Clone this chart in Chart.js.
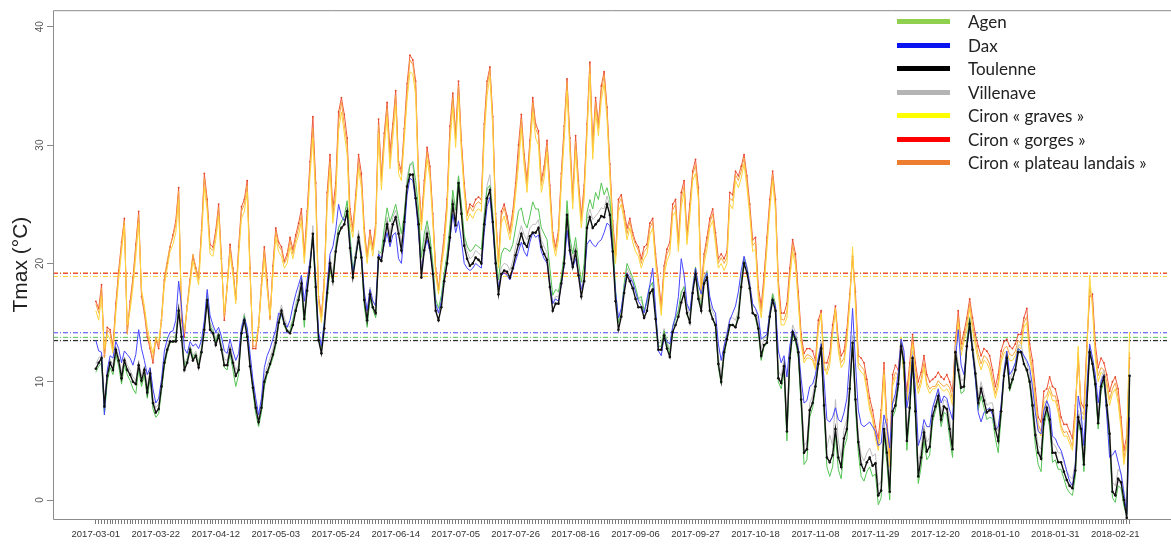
<!DOCTYPE html>
<html>
<head>
<meta charset="utf-8">
<script src="https://cdn.jsdelivr.net/npm/chart.js@4.4.1/dist/chart.umd.min.js"></script>
<style>
  html, body { margin: 0; padding: 0; background: #fff; overflow: hidden; }
  #wrap { position: relative; width: 1171px; height: 544px; }
  #legend { position: absolute; left: 897px; top: 10px; font-family: Lato, "Open Sans", sans-serif; font-size: 17px; color: #222; }
  .row { height: 23.5px; display: flex; align-items: center; white-space: nowrap; }
  .sw { display: inline-block; width: 53px; height: 5px; margin-right: 18px; }
</style>
</head>
<body>
<div id="wrap">
  <canvas id="chart" width="1171" height="544"></canvas>
  <div id="legend"></div>
</div>
<script>
// Tmax journalière, du 2017-03-01 au 2018-02-26 (un point par jour)
const tickLabels = ['2017-03-01','2017-03-22','2017-04-12','2017-05-03','2017-05-24','2017-06-14',
  '2017-07-05','2017-07-26','2017-08-16','2017-09-06','2017-09-27','2017-10-18','2017-11-08',
  '2017-11-29','2017-12-20','2018-01-10','2018-01-31','2018-02-21'];
const yTicks = [0, 10, 20, 30, 40];

const seriesNames = ['Agen', 'Dax', 'Toulenne', 'Villenave', 'Ciron « graves »', 'Ciron « gorges »', 'Ciron « plateau landais »'];

const toulenne = [
  11.1, 11.6, 12.0, 7.9, 10.5, 11.6, 11.0, 12.7, 11.8, 10.3,
  11.8, 11.0, 10.6, 10.0, 9.8, 11.4, 10.1, 11.0, 9.1, 10.7,
  8.2, 7.4, 7.7, 9.6, 11.6, 12.7, 13.4, 13.4, 13.4, 16.0,
  13.8, 11.0, 11.6, 12.7, 11.8, 12.2, 11.2, 12.5, 14.4, 16.9,
  14.4, 14.1, 13.1, 13.9, 12.7, 11.4, 11.4, 12.7, 11.6, 10.5,
  11.0, 14.1, 15.2, 13.8, 11.3, 9.5, 7.8, 6.6, 7.8, 10.0,
  10.8, 11.5, 12.3, 13.3, 15.0, 16.0, 14.9, 14.3, 14.1, 14.8,
  16.0, 16.9, 18.3, 15.3, 17.7, 19.7, 22.5, 18.0, 13.5, 12.4,
  14.5, 17.5, 20.0, 18.5, 21.0, 22.5, 23.0, 23.3, 24.4, 21.3,
  18.8, 20.5, 22.2, 20.5, 16.9, 15.2, 17.4, 16.3, 15.8, 20.5,
  20.2, 21.9, 23.3, 21.9, 23.3, 23.9, 22.5, 21.1, 23.5, 26.5,
  27.5, 27.5, 25.5, 23.3, 18.8, 21.1, 22.5, 21.3, 19.1, 16.0,
  15.2, 16.3, 18.5, 20.0, 22.2, 25.0, 23.2, 26.8, 24.2, 21.5,
  20.4, 19.8, 20.0, 20.5, 20.3, 20.0, 23.3, 25.5, 26.2, 23.5,
  20.0, 17.4, 19.1, 19.4, 19.3, 18.8, 19.6, 20.7, 21.6, 22.5,
  21.7, 21.4, 22.3, 22.6, 22.6, 23.0, 21.4, 20.8, 20.3, 18.0,
  16.0, 16.6, 16.6, 18.3, 20.0, 24.1, 21.1, 19.7, 21.0, 19.0,
  17.2, 18.5, 23.0, 23.9, 23.0, 23.3, 23.6, 24.0, 23.9, 25.0,
  24.1, 21.0, 16.8, 14.4, 15.5, 17.5, 19.0, 18.5, 17.9, 17.0,
  16.3, 16.3, 15.4, 16.0, 17.5, 17.8, 15.3, 12.7, 12.7, 13.9,
  12.8, 12.1, 14.2, 14.8, 15.5, 16.7, 17.5, 15.8, 15.0, 17.5,
  19.1, 17.0, 16.0, 18.3, 18.8, 16.0, 15.3, 14.8, 11.5, 10.0,
  12.5, 13.6, 14.8, 14.8, 14.6, 15.4, 18.0, 20.0, 19.2, 17.9,
  15.8, 15.6, 14.5, 12.2, 13.1, 13.3, 15.5, 16.9, 16.0, 10.3,
  9.9, 11.3, 5.8, 12.0, 14.2, 13.6, 12.5, 8.5, 4.0, 4.3,
  7.6, 8.2, 9.6, 11.5, 12.8, 8.0, 3.6, 3.2, 3.8, 6.0,
  3.6, 2.8, 5.2, 6.0, 9.4, 13.3, 8.5, 4.9, 3.0, 2.5,
  3.2, 3.6, 2.9, 3.1, 0.4, 0.8, 6.0, 4.0, 0.7, 7.5,
  8.0, 9.8, 13.0, 11.6, 5.0, 7.8, 12.0, 7.5, 2.0, 3.6,
  5.7, 4.1, 4.5, 7.1, 7.9, 8.8, 6.8, 7.9, 7.7, 6.0,
  4.3, 12.5, 11.0, 9.5, 9.6, 13.0, 14.9, 12.7, 10.7, 8.2,
  9.4, 8.4, 7.4, 7.6, 7.6, 6.0, 5.0, 7.5, 10.5, 12.0,
  9.5, 10.2, 11.0, 12.5, 12.5, 11.5, 11.0, 10.0, 8.0, 5.5,
  4.0, 3.5, 6.8, 7.8, 6.8, 4.0, 4.0, 3.2, 3.2, 2.4,
  1.7, 1.2, 1.0, 2.5, 7.0, 6.0, 3.0, 8.0, 12.5, 11.5,
  9.8, 6.5, 9.6, 10.4, 8.0, 5.6, 0.7, 0.4, 1.8, 1.5,
  0.0, -1.5, 10.5
];

const villenave = [
  11.5, 12.0, 12.3, 8.5, 10.8, 11.9, 11.4, 13.0, 12.1, 10.8,
  12.1, 11.4, 11.0, 10.4, 10.1, 11.8, 10.5, 11.3, 9.5, 11.0,
  8.6, 7.8, 8.1, 10.0, 11.9, 13.0, 13.8, 13.8, 13.9, 16.6,
  14.2, 11.5, 12.0, 13.1, 12.2, 12.6, 11.7, 13.0, 15.0, 17.5,
  15.0, 14.5, 13.6, 14.3, 13.1, 11.9, 11.8, 13.1, 12.0, 11.0,
  11.4, 14.6, 15.8, 14.3, 11.8, 9.9, 8.2, 7.0, 8.3, 10.5,
  11.3, 12.0, 12.8, 13.8, 15.5, 16.5, 15.4, 14.8, 14.6, 15.3,
  16.6, 17.5, 18.9, 15.9, 18.3, 20.3, 23.2, 18.6, 14.0, 12.9,
  15.0, 18.1, 20.6, 19.1, 21.6, 23.1, 23.6, 23.9, 25.0, 21.9,
  19.3, 21.1, 22.8, 21.1, 17.5, 15.8, 18.0, 16.9, 16.4, 21.1,
  20.8, 22.5, 23.9, 22.5, 23.9, 24.5, 23.1, 21.7, 24.1, 27.3,
  28.4, 28.3, 26.2, 23.9, 19.4, 21.8, 23.2, 22.0, 19.7, 16.6,
  15.8, 16.9, 19.1, 20.6, 22.9, 25.7, 23.8, 27.4, 24.9, 22.1,
  21.0, 20.4, 20.6, 21.1, 20.9, 20.6, 24.2, 26.6, 27.5, 24.4,
  20.7, 18.0, 19.7, 20.0, 19.9, 19.4, 20.2, 21.4, 22.3, 23.2,
  22.4, 22.0, 23.0, 23.3, 23.3, 23.7, 22.0, 21.4, 20.9, 18.6,
  16.6, 17.2, 17.2, 18.9, 20.7, 24.8, 21.7, 20.3, 21.6, 19.6,
  17.8, 19.1, 23.7, 24.6, 23.7, 24.0, 24.3, 24.7, 24.6, 25.7,
  24.8, 21.6, 17.4, 15.0, 16.1, 18.1, 19.6, 19.1, 18.5, 17.6,
  16.9, 16.9, 16.0, 16.6, 18.1, 18.4, 15.9, 13.3, 13.3, 14.5,
  13.4, 12.7, 14.8, 15.4, 16.1, 17.3, 18.1, 16.4, 15.6, 18.1,
  19.7, 17.6, 16.6, 18.9, 19.4, 16.6, 15.9, 15.4, 12.1, 10.6,
  13.1, 14.2, 15.4, 15.4, 15.2, 16.0, 18.6, 20.6, 19.8, 18.5,
  16.4, 16.2, 15.1, 12.8, 13.7, 13.9, 16.1, 17.5, 16.6, 10.9,
  10.5, 11.9, 6.6, 12.6, 14.8, 14.2, 13.1, 9.1, 4.6, 4.9,
  8.2, 8.8, 10.2, 12.1, 13.4, 8.6, 4.4, 5.5, 4.6, 8.5,
  5.0, 3.6, 6.0, 6.8, 10.0, 13.9, 9.1, 5.5, 3.8, 3.3,
  4.0, 4.4, 3.7, 3.9, 1.2, 1.6, 6.6, 4.8, 1.5, 8.1,
  8.6, 10.4, 13.6, 12.2, 5.8, 8.4, 12.6, 8.1, 2.8, 4.4,
  6.3, 4.9, 5.3, 7.7, 8.5, 9.4, 7.4, 8.5, 8.3, 6.8,
  5.1, 13.1, 11.6, 10.1, 10.2, 13.6, 15.5, 13.3, 11.3, 8.8,
  10.0, 9.0, 8.0, 8.2, 8.2, 6.6, 5.8, 8.1, 11.1, 12.6,
  10.1, 10.8, 11.6, 13.1, 13.1, 12.1, 11.6, 10.6, 8.6, 6.1,
  4.6, 4.3, 7.4, 8.4, 7.4, 4.8, 4.6, 4.0, 4.0, 3.2,
  2.5, 2.0, 1.8, 3.3, 7.6, 6.6, 3.8, 8.6, 13.1, 12.1,
  10.4, 7.1, 10.2, 11.0, 8.6, 6.2, 1.5, 1.2, 2.6, 2.3,
  0.8, -0.7, 11.1
];

const agen = [
  10.8, 11.3, 11.6, 7.2, 10.0, 11.2, 10.6, 12.3, 11.3, 9.8,
  11.4, 10.6, 10.1, 9.4, 9.0, 11.0, 9.6, 10.6, 8.6, 10.3,
  7.7, 7.0, 7.3, 9.2, 11.3, 12.5, 13.3, 13.4, 13.6, 16.2,
  14.0, 11.3, 11.8, 12.9, 12.0, 12.4, 11.4, 12.7, 14.8, 17.2,
  14.7, 14.3, 13.4, 14.1, 12.9, 11.2, 11.0, 12.4, 11.0, 9.6,
  10.6, 14.2, 15.6, 14.2, 11.6, 9.2, 7.3, 6.2, 7.4, 9.6,
  10.6, 11.3, 12.0, 13.0, 14.8, 15.8, 14.7, 14.2, 14.3, 15.2,
  16.2, 17.2, 18.0, 14.6, 17.8, 20.0, 22.3, 17.2, 13.6, 12.6,
  15.2, 17.0, 19.5, 18.4, 21.3, 23.0, 23.5, 24.0, 25.3, 22.5,
  19.4, 20.8, 22.0, 20.2, 16.4, 14.6, 17.0, 16.1, 15.4, 20.8,
  21.0, 23.0, 24.7, 23.5, 24.2, 25.0, 23.8, 22.5, 24.2, 26.8,
  28.3, 28.6, 27.0, 24.6, 20.5, 22.5, 23.6, 22.3, 20.0, 17.0,
  16.2, 17.3, 19.2, 20.8, 23.3, 26.2, 24.5, 27.4, 25.0, 22.4,
  21.5, 21.0, 21.2, 21.6, 21.4, 21.2, 24.0, 26.3, 26.6, 24.0,
  20.6, 18.6, 20.8, 21.3, 21.2, 21.0, 21.6, 23.0, 24.4, 24.7,
  23.5, 23.0, 24.0, 25.2, 24.6, 24.6, 23.0, 22.5, 22.0, 19.6,
  17.3, 17.8, 17.6, 18.8, 20.8, 25.3, 22.2, 20.8, 22.2, 20.2,
  18.4, 20.0, 24.3, 25.4, 24.6, 26.0, 25.4, 26.8, 25.8, 26.4,
  25.4, 22.3, 17.8, 15.0, 15.7, 18.3, 20.0, 19.4, 18.8, 18.0,
  17.0, 17.2, 16.0, 16.8, 18.0, 18.4, 15.8, 13.0, 13.0, 14.3,
  13.2, 12.4, 14.6, 15.3, 16.0, 17.6, 18.0, 15.6, 15.2, 17.8,
  19.7, 17.4, 16.2, 18.6, 19.3, 16.2, 15.3, 14.6, 11.2, 9.8,
  12.2, 13.5, 14.6, 14.9, 14.6, 15.8, 18.4, 20.4, 19.6, 18.0,
  15.9, 15.4, 14.2, 11.8, 13.0, 13.2, 15.8, 17.4, 16.5, 10.0,
  9.4, 10.8, 5.0, 11.5, 14.0, 13.4, 12.0, 7.8, 3.0, 3.4,
  7.0, 7.8, 9.4, 11.6, 13.0, 7.4, 2.8, 2.0, 2.8, 5.4,
  2.6, 1.8, 4.4, 5.2, 9.0, 13.4, 7.8, 4.0, 2.0, 1.6,
  2.4, 2.8, 2.0, 2.2, -0.4, 0.2, 5.4, 3.2, 0.0, 7.0,
  7.6, 9.4, 13.2, 11.0, 4.2, 7.2, 11.8, 6.8, 1.4, 2.8,
  5.0, 3.4, 3.8, 6.6, 7.5, 8.5, 6.2, 7.4, 7.2, 5.2,
  3.6, 12.2, 10.7, 9.0, 9.2, 13.2, 15.4, 12.6, 10.2, 7.6,
  8.8, 7.8, 6.8, 7.0, 6.9, 5.2, 4.0, 7.0, 10.6, 12.4,
  9.2, 10.0, 11.2, 12.8, 12.6, 11.6, 11.0, 9.8, 7.4, 4.6,
  3.0, 2.4, 6.2, 7.4, 6.2, 3.2, 3.4, 2.6, 2.6, 1.8,
  1.0, 0.6, 0.4, 2.0, 6.6, 5.6, 2.4, 7.6, 12.8, 11.4,
  9.4, 6.0, 9.2, 10.0, 7.4, 4.8, 0.2, -0.2, 1.2, 1.0,
  -0.5, -1.3, 10.0
];

const dax = [
  13.5, 12.6, 12.5, 7.2, 11.0, 12.2, 12.0, 13.4, 12.8, 11.6,
  12.6, 12.3, 12.0, 11.4, 12.3, 14.4, 12.8, 11.8, 10.6, 11.2,
  9.4, 8.2, 8.6, 10.2, 12.6, 13.6, 14.2, 14.3, 15.2, 18.5,
  16.4, 12.8, 12.4, 13.4, 13.0, 13.2, 12.8, 13.5, 15.2, 17.8,
  15.6, 14.8, 14.2, 14.6, 13.8, 12.6, 12.4, 13.6, 12.6, 11.8,
  12.4, 14.6, 15.4, 14.6, 12.4, 10.2, 8.6, 7.2, 8.6, 11.2,
  12.2, 12.8, 13.6, 14.4, 15.8, 15.6, 15.0, 14.6, 15.2, 16.4,
  17.4, 18.2, 19.0, 16.8, 18.6, 20.2, 22.0, 18.6, 14.2, 13.0,
  15.0, 18.2, 20.8, 21.4, 22.8, 25.0, 24.0, 23.6, 24.2, 21.6,
  19.2, 20.6, 22.0, 20.8, 17.6, 16.0, 17.8, 16.8, 16.4, 20.8,
  20.4, 21.6, 22.6, 21.4, 22.4, 22.6, 20.4, 20.0, 22.6, 25.8,
  27.2, 27.0, 25.2, 22.6, 19.4, 21.0, 22.0, 21.0, 19.4, 16.6,
  15.8, 16.8, 18.6, 20.0, 22.0, 24.2, 22.6, 23.6, 22.0, 20.0,
  19.6, 19.4, 19.6, 20.0, 19.8, 19.6, 22.6, 24.8, 25.6, 23.0,
  19.8, 18.0, 19.0, 19.2, 19.0, 18.6, 19.4, 20.2, 21.0, 21.8,
  21.0, 20.6, 21.8, 22.6, 22.2, 22.4, 21.0, 20.4, 20.0, 18.2,
  16.6, 17.0, 16.8, 18.2, 19.8, 22.8, 20.8, 19.6, 20.4, 19.2,
  17.8, 18.6, 21.6, 22.0, 21.6, 21.4, 21.8, 22.0, 22.6, 23.4,
  23.2, 20.8, 17.6, 15.4, 16.2, 17.8, 19.2, 18.8, 18.4, 17.6,
  16.8, 16.4, 15.8, 17.0, 18.2, 19.6, 16.2, 12.6, 12.2, 13.8,
  13.4, 13.2, 14.6, 15.6, 17.2, 20.4, 19.0, 16.6, 16.0, 17.8,
  19.6, 18.2, 17.4, 18.6, 19.2, 17.2, 16.2, 15.8, 13.2, 11.8,
  13.0, 14.0, 15.2, 15.8, 16.4, 17.6, 19.4, 20.6, 19.6, 18.2,
  16.6, 16.2, 15.6, 13.6, 13.8, 14.0, 15.8, 17.0, 16.4, 12.6,
  11.6, 12.2, 10.4, 13.0, 14.4, 13.8, 12.8, 10.2, 8.2, 8.4,
  9.6, 9.8, 10.6, 12.0, 13.2, 10.2, 6.8, 6.6, 7.0, 7.8,
  6.8, 6.6, 7.4, 8.6, 12.0, 16.2, 11.6, 7.6, 6.4, 6.2,
  6.4, 6.6, 6.2, 5.8, 4.6, 4.8, 7.2, 6.2, 4.4, 8.2,
  9.0, 10.8, 13.6, 12.6, 7.8, 9.2, 12.2, 9.4, 4.6, 5.4,
  6.8, 6.2, 6.2, 7.8, 8.6, 9.4, 8.2, 8.8, 8.6, 7.6,
  6.8, 11.8, 14.4, 11.4, 10.6, 12.8, 14.6, 12.4, 10.2, 7.4,
  6.6, 7.4, 7.6, 7.8, 7.2, 6.0, 6.2, 8.0, 10.8, 12.6,
  10.6, 11.0, 11.6, 12.8, 12.6, 12.2, 11.8, 11.2, 9.6, 7.4,
  5.8, 5.6, 7.6, 8.4, 7.8, 5.4, 5.2, 4.6, 4.2, 3.4,
  2.4, 1.6, 1.2, 3.0, 8.8, 7.4, 4.6, 9.4, 13.2, 12.0,
  10.6, 8.2, 10.0, 10.6, 7.2, 3.6, 3.8, 4.2, 3.2, 2.2,
  0.6, -1.2, 7.0
];

const cironPlateau = [
  16.6, 15.8, 17.9, 12.0, 14.4, 14.1, 12.7, 16.3, 19.1, 21.5,
  23.6, 14.0, 16.5, 18.6, 21.3, 24.1, 17.4, 16.0, 14.1, 13.0,
  11.9, 13.8, 13.0, 15.5, 18.8, 20.2, 21.5, 22.2, 23.3, 26.1,
  15.5, 14.1, 16.5, 18.8, 20.8, 19.7, 18.6, 22.7, 27.2, 25.0,
  21.3, 21.1, 22.5, 24.7, 20.2, 15.5, 18.3, 21.3, 19.4, 16.9,
  21.1, 24.4, 25.0, 26.6, 19.4, 13.0, 13.0, 14.9, 18.3, 21.1,
  18.0, 15.2, 19.5, 22.7, 21.5, 21.1, 20.0, 20.5, 21.9, 20.8,
  22.0, 23.0, 24.1, 20.5, 23.9, 28.0, 31.4, 26.0, 17.0, 15.5,
  18.5, 25.5, 28.6, 24.0, 26.0, 32.0, 33.6, 31.7, 30.0, 24.0,
  22.7, 25.5, 28.6, 27.0, 22.7, 20.5, 22.5, 21.1, 23.0, 31.7,
  26.9, 30.5, 33.1, 28.6, 31.4, 34.2, 28.3, 27.5, 31.0, 34.5,
  37.2, 36.8, 35.0, 27.0, 23.3, 26.6, 29.4, 27.8, 23.9, 19.4,
  17.7, 20.0, 22.0, 25.0, 31.0, 34.0, 30.5, 35.0, 30.0, 26.5,
  24.0, 24.8, 24.4, 25.0, 25.2, 25.0, 31.4, 35.0, 36.4, 32.0,
  24.0, 20.0, 24.0, 24.7, 23.6, 22.5, 24.0, 26.4, 29.0, 32.2,
  28.9, 26.6, 30.0, 33.6, 31.4, 30.8, 26.6, 27.8, 30.0, 26.1,
  22.2, 21.1, 22.5, 27.2, 31.1, 35.3, 30.0, 25.2, 30.3, 26.6,
  23.6, 26.1, 31.4, 36.7, 29.4, 33.6, 31.4, 34.5, 35.9, 32.8,
  28.0, 23.3, 20.5, 25.0, 25.5, 24.1, 22.5, 23.5, 22.3, 21.6,
  21.1, 20.0, 21.0, 21.3, 23.0, 23.5, 20.5, 18.3, 16.0, 19.5,
  20.8, 21.3, 24.5, 25.0, 21.5, 25.5, 26.5, 22.0, 24.5, 27.5,
  28.3, 26.0, 17.5, 20.5, 21.8, 23.4, 24.2, 22.2, 20.0, 20.5,
  20.0, 20.5, 25.5, 25.3, 27.5, 27.0, 27.8, 28.9, 27.0, 24.5,
  21.5, 21.8, 17.5, 15.9, 18.5, 21.8, 25.0, 27.5, 25.0, 18.0,
  15.3, 15.2, 16.0, 19.0, 21.6, 20.3, 17.0, 13.5, 11.9, 12.3,
  12.2, 12.0, 11.2, 14.8, 15.6, 11.0, 11.0, 11.9, 14.3, 16.0,
  13.0, 11.6, 12.0, 13.8, 17.0, 20.5, 17.0, 11.6, 11.3, 11.0,
  9.5, 8.0, 7.0, 5.5, 4.5, 7.0, 11.0, 6.0, 3.0, 10.0,
  10.8, 10.5, 13.3, 10.5, 8.5, 11.0, 13.5, 11.0, 9.4, 10.2,
  11.6, 9.9, 9.4, 9.6, 9.6, 10.1, 9.8, 9.6, 9.8, 9.5,
  8.5, 13.0, 15.5, 12.7, 13.8, 14.9, 16.6, 14.8, 13.5, 12.3,
  11.5, 12.2, 12.0, 11.5, 10.3, 9.0, 10.0, 12.0, 12.8, 13.0,
  12.3, 12.2, 12.6, 13.5, 13.2, 15.0, 15.5, 12.5, 11.0, 8.6,
  6.4, 5.8, 8.6, 8.8, 9.6, 8.8, 8.8, 7.8, 6.3, 5.7,
  5.8, 5.2, 4.5, 7.5, 12.5, 7.5, 7.2, 12.5, 18.0, 16.8,
  12.5, 10.5, 11.2, 11.0, 10.0, 8.5, 9.4, 9.9, 8.7, 6.5,
  3.5, 5.0, 12.5
];

const cironGraves = [
  16.0, 15.2, 17.2, 12.8, 14.0, 13.6, 12.4, 15.8, 18.6, 21.0,
  23.2, 14.8, 16.0, 18.0, 20.6, 23.4, 17.8, 16.4, 14.6, 13.4,
  12.4, 13.6, 13.4, 15.2, 18.2, 19.6, 21.0, 21.6, 22.6, 25.4,
  16.0, 14.4, 16.2, 18.2, 20.2, 19.2, 18.2, 22.0, 26.4, 24.4,
  20.8, 20.6, 22.0, 24.0, 19.8, 15.8, 18.0, 20.8, 19.0, 16.6,
  20.6, 23.8, 24.4, 26.0, 19.0, 13.6, 13.4, 14.6, 17.8, 20.4,
  17.8, 15.6, 19.0, 22.2, 21.0, 20.6, 19.6, 20.0, 21.4, 20.4,
  21.6, 22.4, 23.6, 20.0, 23.2, 27.4, 30.6, 25.4, 16.6, 15.0,
  18.0, 24.8, 28.0, 23.4, 25.4, 31.2, 32.8, 31.0, 29.2, 23.4,
  22.2, 25.0, 28.0, 26.4, 22.2, 20.0, 22.0, 20.6, 22.6, 31.0,
  26.2, 29.8, 32.4, 28.0, 30.6, 33.4, 27.6, 27.0, 30.4, 33.8,
  36.2, 36.0, 34.2, 26.4, 22.8, 26.0, 28.8, 27.2, 23.4, 19.0,
  17.4, 19.6, 21.4, 24.4, 30.2, 33.2, 29.8, 34.2, 29.4, 26.0,
  23.6, 24.2, 23.8, 24.4, 24.6, 24.4, 30.6, 34.2, 35.8, 31.4,
  23.4, 19.6, 23.4, 24.0, 23.0, 22.0, 23.4, 25.8, 28.2, 31.4,
  28.2, 26.0, 29.4, 32.8, 30.6, 30.0, 26.0, 27.2, 29.4, 25.6,
  21.8, 20.6, 22.0, 26.6, 30.4, 34.6, 29.4, 24.6, 29.6, 26.0,
  23.0, 25.4, 30.8, 36.0, 28.8, 32.8, 30.8, 33.8, 35.2, 32.2,
  27.4, 22.8, 20.0, 24.4, 25.0, 23.6, 22.0, 23.0, 21.8, 21.0,
  20.6, 19.6, 20.4, 20.8, 22.4, 23.0, 20.0, 17.8, 15.6, 19.0,
  20.2, 20.8, 24.0, 24.4, 21.0, 24.8, 26.0, 21.6, 24.0, 27.0,
  27.6, 25.4, 17.0, 20.0, 21.2, 23.0, 23.6, 21.6, 19.6, 20.0,
  19.4, 20.0, 25.0, 24.6, 27.0, 26.4, 27.2, 28.4, 26.4, 24.0,
  21.0, 21.2, 17.0, 15.4, 18.0, 21.2, 24.4, 27.0, 24.4, 17.6,
  14.8, 14.8, 15.4, 18.6, 21.0, 19.8, 16.6, 13.2, 11.6, 12.0,
  12.0, 11.8, 11.0, 14.4, 15.8, 11.4, 10.6, 11.4, 14.0, 16.2,
  12.6, 11.2, 11.6, 13.4, 16.6, 21.4, 16.4, 11.2, 10.8, 10.6,
  9.2, 7.6, 6.8, 5.2, 4.2, 6.6, 10.6, 5.8, 2.8, 9.6,
  10.4, 10.2, 13.8, 10.2, 8.2, 10.6, 13.2, 10.6, 9.0, 9.8,
  11.2, 9.6, 9.0, 9.4, 9.4, 9.8, 9.4, 9.2, 9.4, 9.0,
  8.0, 12.6, 15.0, 12.2, 13.4, 14.4, 16.2, 14.4, 13.0, 11.8,
  11.0, 11.8, 11.6, 11.0, 9.8, 8.6, 9.6, 11.6, 12.4, 12.6,
  11.8, 11.8, 12.2, 13.0, 12.8, 14.6, 15.0, 12.0, 10.6, 8.2,
  6.0, 5.4, 8.2, 8.4, 9.2, 8.4, 8.4, 7.4, 6.0, 5.4,
  5.4, 4.8, 4.2, 7.0, 13.0, 7.2, 6.8, 12.0, 19.0, 16.2,
  12.0, 10.0, 10.8, 10.6, 9.6, 8.0, 9.0, 9.4, 8.2, 6.0,
  3.0, 4.6, 14.2
];

const cironGorges = [
  16.8, 16.2, 18.2, 12.2, 14.6, 14.4, 13.0, 16.6, 19.4, 21.8,
  23.8, 14.2, 16.8, 18.8, 21.6, 24.4, 17.2, 15.8, 13.8, 12.8,
  11.6, 13.6, 12.8, 15.2, 18.6, 20.0, 21.4, 22.4, 23.6, 26.4,
  15.2, 13.8, 16.4, 18.6, 20.6, 19.6, 18.8, 22.8, 27.6, 25.4,
  21.6, 21.4, 22.8, 25.0, 20.4, 15.2, 18.0, 21.6, 19.6, 17.0,
  21.4, 24.8, 25.4, 27.0, 19.6, 12.8, 12.8, 14.6, 18.2, 21.4,
  18.6, 15.4, 19.8, 23.0, 21.8, 21.4, 20.2, 20.8, 22.2, 21.2,
  22.4, 23.4, 24.6, 20.8, 24.4, 28.6, 32.4, 26.8, 17.2, 15.6,
  18.6, 26.0, 29.2, 24.6, 26.8, 32.8, 34.0, 32.6, 30.6, 24.6,
  23.0, 25.8, 29.2, 27.6, 23.0, 20.6, 22.8, 21.4, 23.4, 32.2,
  27.4, 31.0, 33.6, 29.4, 31.8, 34.6, 28.6, 27.8, 31.4, 35.2,
  37.6, 37.2, 35.4, 27.4, 23.6, 27.0, 29.8, 28.2, 24.2, 19.6,
  17.8, 20.2, 22.4, 25.4, 31.6, 34.4, 31.0, 35.4, 30.4, 26.8,
  24.2, 25.0, 24.8, 25.4, 25.6, 25.4, 31.8, 35.4, 36.6, 32.4,
  24.2, 20.2, 24.4, 25.0, 24.0, 22.8, 24.4, 26.8, 30.0, 32.6,
  29.2, 27.0, 30.4, 34.0, 31.8, 31.2, 27.0, 28.2, 30.4, 26.6,
  22.6, 21.4, 22.8, 27.6, 31.6, 35.6, 30.6, 25.6, 30.8, 27.0,
  24.0, 26.6, 31.8, 37.0, 30.0, 34.0, 31.8, 35.0, 36.2, 33.2,
  28.4, 23.6, 20.8, 25.4, 25.8, 24.4, 23.0, 23.8, 22.6, 21.8,
  21.4, 20.4, 21.4, 21.6, 23.4, 23.8, 20.8, 18.6, 16.4, 19.8,
  21.2, 21.8, 25.0, 25.4, 21.8, 26.0, 27.0, 22.4, 25.0, 27.8,
  28.8, 26.4, 17.8, 20.8, 22.2, 23.8, 24.6, 22.6, 20.4, 20.8,
  20.4, 21.0, 26.0, 25.8, 27.8, 27.4, 28.2, 29.2, 27.4, 25.0,
  22.0, 22.2, 18.0, 16.4, 19.0, 22.2, 25.4, 27.8, 25.4, 18.6,
  15.8, 15.8, 16.6, 19.6, 22.0, 20.8, 17.6, 14.0, 12.4, 12.8,
  12.8, 12.6, 11.8, 15.2, 16.0, 11.6, 11.6, 12.4, 14.8, 16.4,
  13.6, 12.2, 12.6, 14.4, 17.4, 20.6, 17.6, 12.2, 12.0, 11.6,
  10.2, 8.6, 7.6, 6.2, 5.2, 7.6, 11.6, 6.8, 3.6, 10.6,
  11.4, 11.0, 13.6, 11.2, 9.2, 11.6, 14.0, 11.6, 10.0, 10.8,
  12.2, 10.6, 10.0, 10.2, 10.4, 10.8, 10.4, 10.2, 10.6, 10.0,
  9.2, 13.4, 16.0, 13.2, 14.2, 15.4, 17.0, 15.4, 14.0, 13.0,
  12.2, 12.8, 12.6, 12.2, 11.0, 9.6, 10.6, 12.6, 13.4, 13.6,
  13.0, 12.8, 13.2, 14.0, 14.0, 15.4, 16.2, 13.2, 11.8, 9.4,
  7.0, 6.6, 9.2, 9.4, 10.4, 9.6, 9.4, 8.4, 7.0, 6.4,
  6.4, 5.8, 5.2, 8.0, 12.0, 8.2, 7.8, 13.0, 17.2, 17.4,
  13.2, 11.2, 12.0, 11.6, 10.6, 9.2, 10.0, 10.4, 9.4, 7.0,
  4.2, 5.4, 12.0
];

// moyennes annuelles (lignes pointillées horizontales)
const meanValues = [13.75, 14.14, 13.47, 13.5, 18.9, 19.16, 19.2];

const lineColors   = ['#55c455', '#4646ff', '#111111', '#bdbdbd', '#ffd43b', '#f0583c', '#f5a545'];
const legendColors = ['#8fd14f', '#0a14f0', '#000000', '#b4b4b4', '#ffff00', '#ff0000', '#ed7d31'];

const X_MIN = -15, X_MAX = 375.1;
const Y_MIN = -1.6, Y_MAX = 41.4;

const allSeries = [agen, dax, toulenne, villenave, cironGraves, cironGorges, cironPlateau];
const days = toulenne.map((v, i) => i);

// ordre de tracé : le premier est dessiné au-dessus
const drawOrder = [2, 1, 0, 3, 4, 6, 5];
const meanOrder = [5, 4, 1, 0, 2, 3, 6];

function buildDatasets() {
  const ds = [];
  allSeries.forEach((s, k) => {
    const isBlack = k === 2, isRed = k === 5;
    ds.push({
      label: seriesNames[k],
      data: s.map((v, i) => ({ x: i, y: v })),
      borderColor: lineColors[k],
      borderWidth: isBlack ? 1.4 : 1,
      pointRadius: isBlack ? 1.3 : (isRed ? 0.9 : 0),
      pointBackgroundColor: isRed ? '#e0452a' : lineColors[k],
      pointBorderWidth: 0,
      tension: 0,
      order: drawOrder.indexOf(k)
    });
  });
  meanValues.forEach((m, k) => {
    ds.push({
      label: 'moyenne ' + seriesNames[k],
      data: [{ x: X_MIN, y: m }, { x: X_MAX, y: m }],
      borderColor: k === 5 ? '#ee3030' : lineColors[k],
      borderWidth: 1,
      borderDash: [5, 2, 1, 2],
      pointRadius: 0,
      order: 20 + meanOrder.indexOf(k)
    });
  });
  return ds;
}

// cadre du graphique (gauche, haut, bas)
const framePlugin = {
  id: 'frame',
  afterDraw(chart) {
    const { ctx, chartArea: a } = chart;
    ctx.save();
    ctx.strokeStyle = '#8c8c8c';
    ctx.lineWidth = 1;
    ctx.beginPath();
    ctx.moveTo(chart.width, a.top + 0.5);
    ctx.lineTo(a.left + 0.5, a.top + 0.5);
    ctx.lineTo(a.left + 0.5, a.bottom + 0.5);
    ctx.lineTo(chart.width, a.bottom + 0.5);
    ctx.stroke();
    ctx.restore();
  }
};

// étiquettes verticales de l'axe Y
const yLabelPlugin = {
  id: 'yLabels',
  afterDraw(chart) {
    const { ctx } = chart;
    const ys = chart.scales.y;
    ctx.save();
    ctx.fillStyle = '#555';
    ctx.font = '10px "Liberation Sans", Arial, sans-serif';
    ctx.textAlign = 'center';
    ctx.textBaseline = 'middle';
    yTicks.forEach(v => {
      ctx.save();
      ctx.translate(40, ys.getPixelForValue(v));
      ctx.rotate(-Math.PI / 2);
      ctx.fillText(String(v), 0, 0);
      ctx.restore();
    });
    ctx.restore();
  }
};

new Chart(document.getElementById('chart').getContext('2d'), {
  type: 'line',
  data: { datasets: buildDatasets() },
  options: {
    animation: false,
    responsive: false,
    devicePixelRatio: 1,
    layout: { padding: { top: 4, right: 0, bottom: 0, left: 0 } },
    plugins: { legend: { display: false }, tooltip: { enabled: false } },
    scales: {
      x: {
        type: 'linear',
        min: X_MIN,
        max: X_MAX,
        afterBuildTicks: s => { s.ticks = days.map(d => ({ value: d })); },
        afterFit: s => { s.height = 25; },
        grid: { drawOnChartArea: false, drawTicks: true, tickLength: 5, color: '#7a7a7a' },
        border: { display: false },
        ticks: {
          autoSkip: false, maxRotation: 0, minRotation: 0, padding: 5,
          color: '#333',
          font: { family: '"Liberation Sans", Arial, sans-serif', size: 9.5 },
          callback: v => (v % 21 === 0 && tickLabels[v / 21]) ? tickLabels[v / 21] : ''
        }
      },
      y: {
        min: Y_MIN,
        max: Y_MAX,
        afterBuildTicks: s => { s.ticks = yTicks.map(v => ({ value: v })); },
        afterFit: s => { s.width = 53; },
        grid: { drawOnChartArea: false, tickLength: 6, color: '#888' },
        border: { display: false },
        ticks: { callback: () => '' },
        title: {
          display: true, text: 'Tmax (°C)', color: '#222',
          font: { family: '"Liberation Sans", Arial, sans-serif', size: 21 },
          padding: { top: 9, bottom: 0 }
        }
      }
    }
  },
  plugins: [framePlugin, yLabelPlugin]
});

// légende
const legend = document.getElementById('legend');
seriesNames.forEach((n, k) => {
  const row = document.createElement('div');
  row.className = 'row';
  const sw = document.createElement('span');
  sw.className = 'sw';
  sw.style.background = legendColors[k];
  const t = document.createElement('span');
  t.textContent = n;
  row.appendChild(sw);
  row.appendChild(t);
  legend.appendChild(row);
});
</script>
</body>
</html>
